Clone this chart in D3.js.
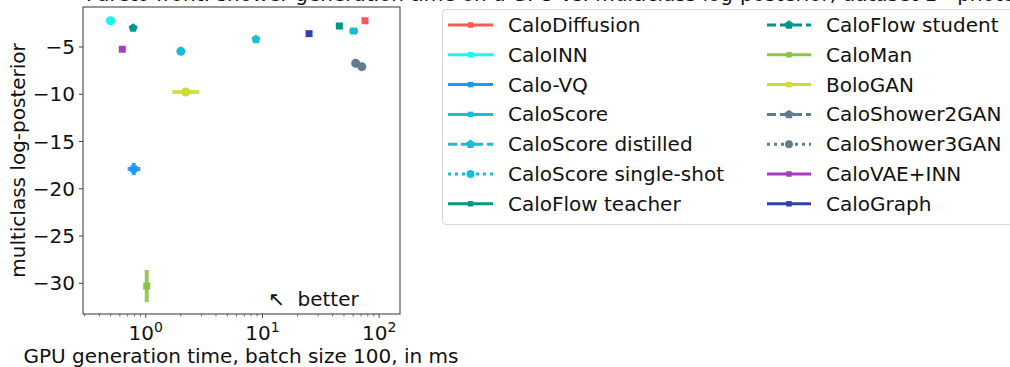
<!DOCTYPE html>
<html><head><meta charset="utf-8">
<script src="https://cdn.jsdelivr.net/npm/d3@7"></script>
<style>body{margin:0;background:#fff;} svg{display:block;font-family:"DejaVu Sans",sans-serif;}</style>
</head><body><svg id="c" width="1010" height="367"></svg>
<script>
const names = ["CaloDiffusion","CaloINN","Calo-VQ","CaloScore","CaloScore distilled","CaloScore single-shot","CaloFlow teacher","CaloFlow student","CaloMan","BoloGAN","CaloShower2GAN","CaloShower3GAN","CaloVAE+INN","CaloGraph"];
const colors = ["#f55a55","#18f6f6","#2196f3","#1cbcd4","#1cbcd4","#1cbcd4","#009688","#009688","#8bc34a","#cddc39","#607d8b","#607d8b","#a63cbf","#2f44a6"];
const markers = ["square","square","square","square","pentagon","circle","square","pentagon","square","square","pentagon","circle","square","square"];
const dashes = ["solid","solid","solid","solid","dashed","dotted","solid","dashed","solid","solid","dashed","dotted","solid","solid"];
const timeMs = [75.7,0.50,0.79,60.5,8.8,2.0,45.6,0.78,1.02,2.2,63,71,0.63,25.1];
const timeLo = [75.7,0.46,0.70,55.5,8.8,2.0,45.6,0.78,1.02,1.69,61,69,0.63,25.1];
const timeHi = [75.7,0.545,0.90,66.0,8.8,2.0,45.6,0.78,1.02,2.87,65,73,0.63,25.1];
const logPost = [-2.22,-2.22,-17.91,-3.31,-4.19,-5.46,-2.78,-2.99,-30.29,-9.76,-6.73,-7.08,-5.24,-3.59];
const logPostErr = [0,0,0.65,0,0,0,0,0,1.7,0,0,0,0,0];
const xTickVals = [1,10,100];
const yTickVals = [-30,-25,-20,-15,-10,-5];
const titleText = "Pareto front: shower generation time on a GPU vs. multiclass log-posterior, dataset 1 - photons";
const xLabel = "GPU generation time, batch size 100, in ms";
const yLabel = "multiclass log-posterior";

const FS = 20;
const svg = d3.select("#c");
const L=83,R=400,T=7,B=314;
const x = d3.scaleLog().domain([0.29,151]).range([L,R]);
const y = d3.scaleLinear().domain([-33.25,-0.77]).range([B,T]);

svg.append("text").attr("x",86).attr("y",1).attr("font-size",FS).attr("fill","#111").text(titleText);

// minor ticks
const minor=[];
for(const dec of [0.1,1,10,100]) for(let k=2;k<=9;k++){const v=dec*k; if(v>=0.29&&v<=151) minor.push(v);}
svg.append("g").selectAll("line").data(minor).join("line")
 .attr("x1",d=>x(d)).attr("x2",d=>x(d)).attr("y1",B).attr("y2",B+2.5).attr("stroke","#333").attr("stroke-width",0.7);
const gx = svg.append("g");
gx.selectAll("line").data(xTickVals).join("line")
 .attr("x1",d=>x(d)).attr("x2",d=>x(d)).attr("y1",B).attr("y2",B+4).attr("stroke","#333").attr("stroke-width",0.9);
const xt = gx.selectAll("text").data(xTickVals).join("text")
 .attr("x",d=>x(d)).attr("y",B+26).attr("text-anchor","middle").attr("font-size",FS).attr("fill","#111");
xt.append("tspan").text("10");
xt.append("tspan").attr("dy",-8).attr("font-size",14).text(d=>Math.round(Math.log10(d)));

const gy = svg.append("g");
gy.selectAll("line").data(yTickVals).join("line")
 .attr("x1",L-4).attr("x2",L).attr("y1",d=>y(d)).attr("y2",d=>y(d)).attr("stroke","#333").attr("stroke-width",0.9);
gy.selectAll("text").data(yTickVals).join("text")
 .attr("x",L-8).attr("y",d=>y(d)).attr("dy","0.35em").attr("text-anchor","end").attr("font-size",FS).attr("fill","#111")
 .text(d=>d3.format("d")(d));

svg.append("text").attr("x",241).attr("y",363).attr("text-anchor","middle").attr("font-size",FS).attr("fill","#111").text(xLabel);
svg.append("text").attr("transform",`translate(25,${(T+B)/2}) rotate(-90)`).attr("text-anchor","middle").attr("font-size",FS).attr("fill","#111").text(yLabel);

// error bars and markers
const idx = d3.range(names.length);
const sym = {square:d3.symbolSquare, pentagon:null, circle:d3.symbolCircle};
function pent(r){const p=[];for(let i=0;i<5;i++){const a=-Math.PI/2+i*2*Math.PI/5;p.push([r*Math.cos(a),r*Math.sin(a)]);}return "M"+p.join("L")+"Z";}
function markerPath(m,s){ if(m==="pentagon") return pent(s*0.68); return d3.symbol().type(sym[m]).size(s*s)(); }
const g = svg.append("g");
idx.forEach(i=>{
  const cx=x(timeMs[i]), cy=y(logPost[i]);
  if(timeLo[i]!==timeHi[i]) g.append("line").attr("x1",x(timeLo[i])).attr("x2",x(timeHi[i])).attr("y1",cy).attr("y2",cy).attr("stroke",colors[i]).attr("stroke-width",4).attr("opacity",0.9);
  if(logPostErr[i]>0) g.append("line").attr("x1",cx).attr("x2",cx).attr("y1",y(logPost[i]-logPostErr[i])).attr("y2",y(logPost[i]+logPostErr[i])).attr("stroke",colors[i]).attr("stroke-width",4).attr("opacity",0.9);
  const m = (names[i]==="BoloGAN"||names[i]==="CaloINN"||names[i]==="CaloShower2GAN")?"circle":markers[i];
  g.append("path").attr("d",markerPath(m,m==="circle"?8:7)).attr("transform",`translate(${cx},${cy})`).attr("fill",colors[i]);
});

svg.append("rect").attr("x",L).attr("y",T).attr("width",R-L).attr("height",B-T).attr("fill","none").attr("stroke","#333").attr("stroke-width",1);

svg.append("text").attr("x",268).attr("y",306).attr("font-size",FS).attr("fill","#111").attr("xml:space","preserve").style("white-space","pre").text("↖  better");

// legend
svg.append("rect").attr("x",442.5).attr("y",9.5).attr("width",580).attr("height",215).attr("rx",4)
 .attr("fill","#fff").attr("stroke","#d6d6d6").attr("stroke-width",1);
const dashMap={solid:null,dashed:"9,4",dotted:"3,4"};
idx.forEach(i=>{
  const col=i<7?0:1, row=i%7;
  const hx0=col?767:448, hx1=col?811:493, tx=col?826:508, ly=25+row*29.8;
  svg.append("line").attr("x1",hx0).attr("x2",hx1).attr("y1",ly).attr("y2",ly).attr("stroke",colors[i]).attr("stroke-width",3).attr("stroke-dasharray",dashMap[dashes[i]]);
  svg.append("path").attr("d",markerPath(markers[i],markers[i]==="square"?5.5:7)).attr("transform",`translate(${(hx0+hx1)/2},${ly})`).attr("fill",colors[i]);
  svg.append("text").attr("x",tx).attr("y",ly).attr("dy","0.35em").attr("font-size",FS).attr("fill","#111").text(names[i]);
});
</script></body></html>
